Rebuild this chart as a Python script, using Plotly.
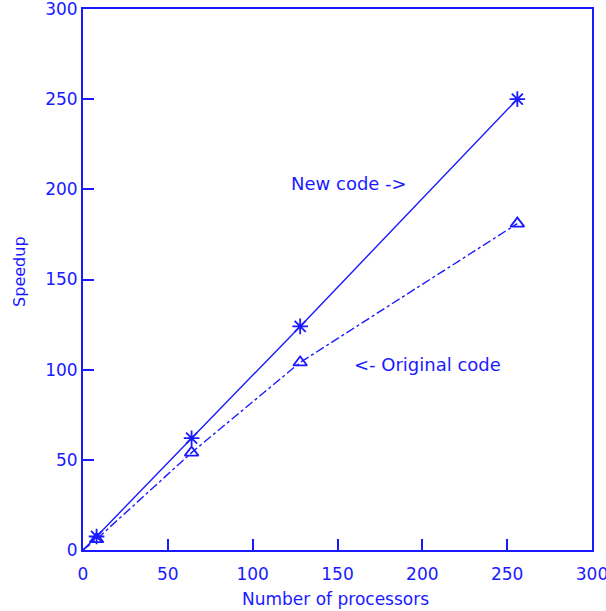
import plotly.graph_objects as go

processors = [8, 64, 128, 256]
new_code = [7.5, 62, 124, 250]
original_code = [6, 54, 104, 181]
x_ticks = [0, 50, 100, 150, 200, 250, 300]
y_ticks = [0, 50, 100, 150, 200, 250, 300]

BLUE = "#1a1aff"
FONT = "DejaVu Sans"

fig = go.Figure()
fig.add_trace(go.Scatter(
    x=[0] + processors, y=[0] + new_code, mode="lines",
    line=dict(color=BLUE, width=1.4), showlegend=False, hoverinfo="skip"))
fig.add_trace(go.Scatter(
    x=processors, y=new_code, mode="markers",
    marker=dict(symbol="asterisk-open", size=13, color=BLUE, line=dict(color=BLUE, width=1.8)),
    showlegend=False))
fig.add_trace(go.Scatter(
    x=[0] + processors, y=[0] + original_code, mode="lines",
    line=dict(color=BLUE, width=1.4, dash="dashdot"), showlegend=False, hoverinfo="skip"))
fig.add_trace(go.Scatter(
    x=processors, y=original_code, mode="markers",
    marker=dict(symbol="triangle-up-open", size=12, color=BLUE, line=dict(color=BLUE, width=1.8)),
    showlegend=False))

fig.add_annotation(x=157, y=203, text="New code ->", showarrow=False,
                   xanchor="center", yanchor="middle",
                   font=dict(family=FONT, size=18, color=BLUE))
fig.add_annotation(x=203, y=103, text="<- Original code", showarrow=False,
                   xanchor="center", yanchor="middle",
                   font=dict(family=FONT, size=18, color=BLUE))
fig.add_annotation(x=0.497, y=-0.0906, xref="paper", yref="paper",
                   text="Number of processors", showarrow=False,
                   xanchor="center", yanchor="middle",
                   font=dict(family=FONT, size=17, color=BLUE))
fig.add_annotation(x=-0.1238, y=0.514, xref="paper", yref="paper",
                   text="Speedup", showarrow=False, textangle=-90,
                   xanchor="center", yanchor="middle",
                   font=dict(family=FONT, size=16, color=BLUE))

axis_common = dict(
    showgrid=False, zeroline=False, showline=True, linecolor=BLUE, linewidth=2,
    mirror=True, ticks="inside", ticklen=11, tickwidth=2, tickcolor=BLUE,
    tickfont=dict(family=FONT, size=17, color=BLUE), automargin=False,
    ticklabeloverflow="allow",
)
fig.update_xaxes(range=[0, 300], tickvals=x_ticks, ticktext=[str(v) for v in x_ticks],
                 ticklabelstandoff=8, **axis_common)
fig.update_yaxes(range=[0, 300], tickvals=y_ticks, ticktext=[str(v) for v in y_ticks],
                 **axis_common)

fig.update_layout(
    width=606, height=611,
    margin=dict(l=83, r=14, t=9, b=61),
    paper_bgcolor="white", plot_bgcolor="white",
)
fig.write_html("out.html", config={"displayModeBar": False},
               post_script="document.body.style.margin='0';")
